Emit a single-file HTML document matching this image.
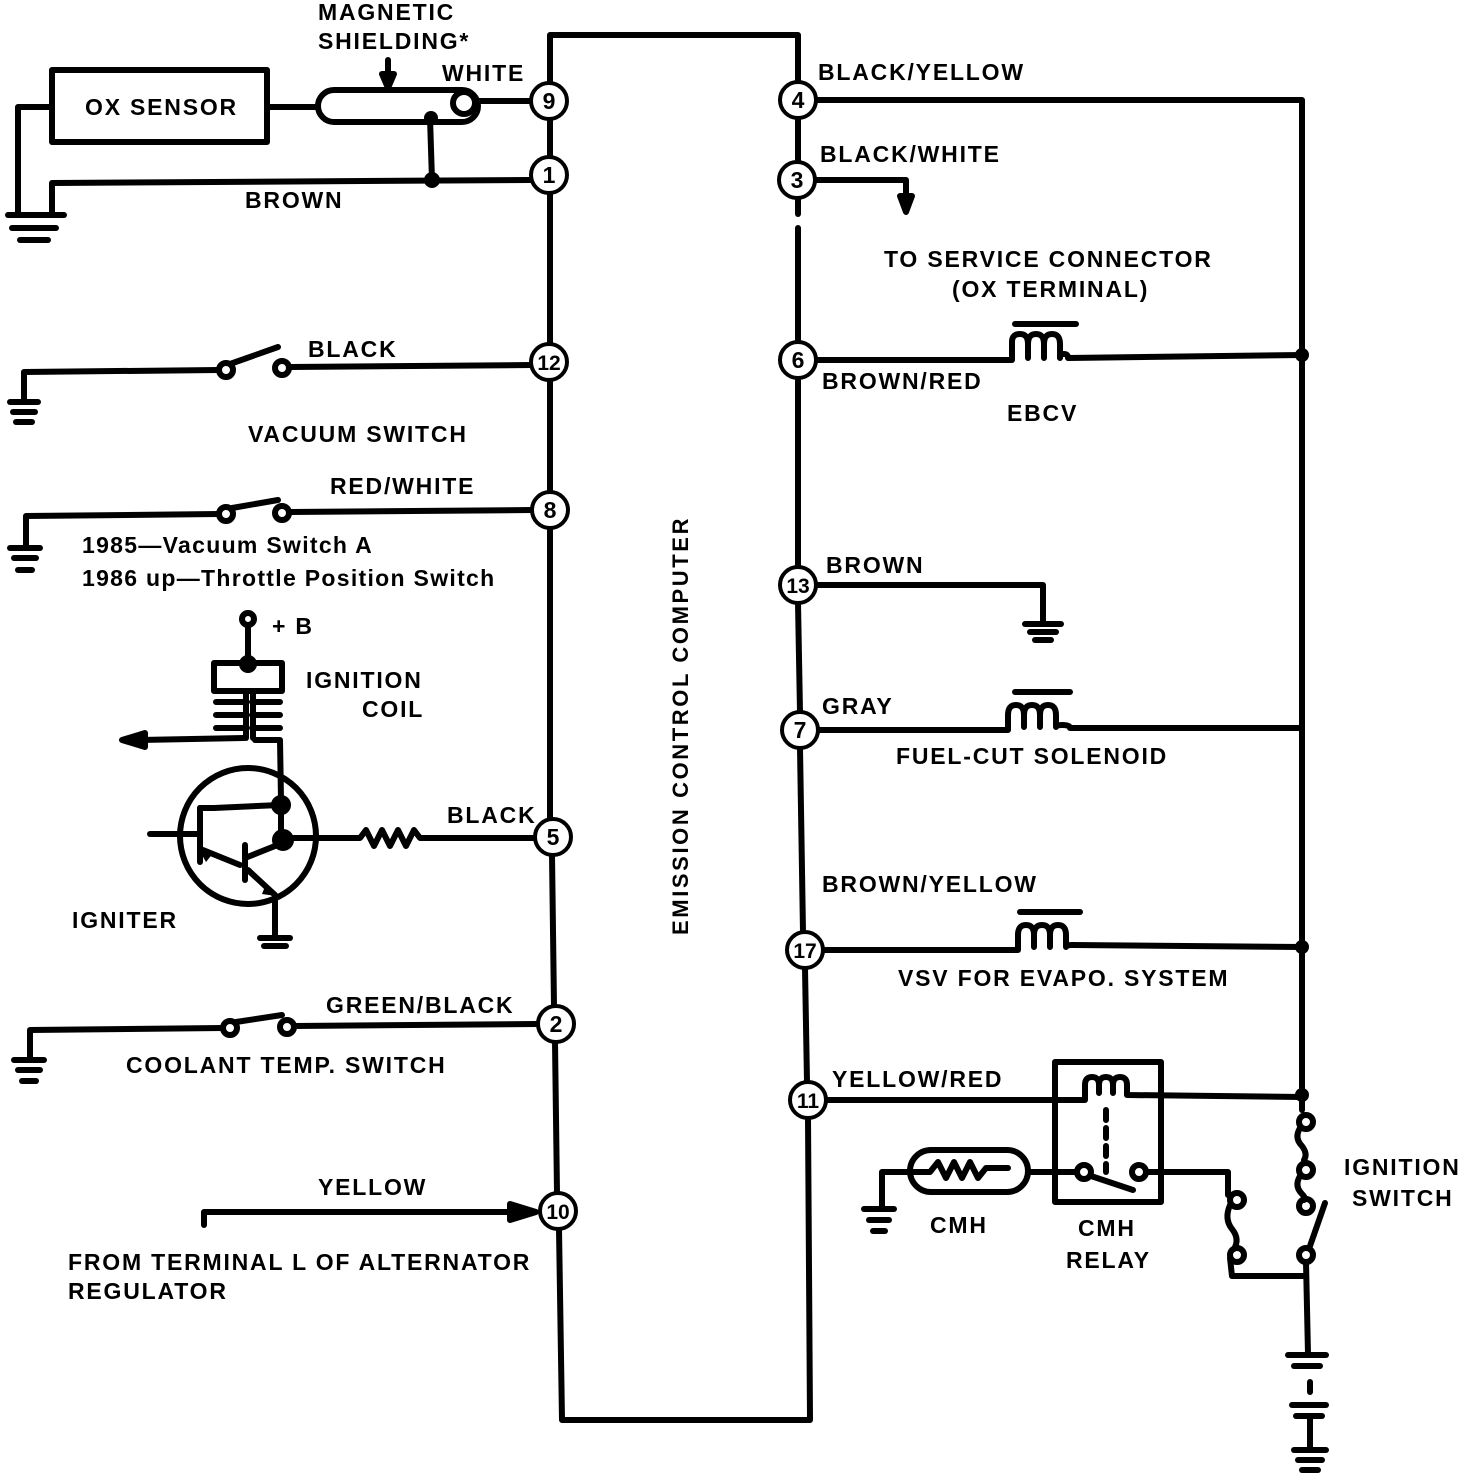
<!DOCTYPE html>
<html><head><style>
html,body{margin:0;padding:0;background:#fff;}
svg{display:block;}
text{font-family:"Liberation Sans",Arial,sans-serif;font-weight:bold;font-size:23px;fill:#000;letter-spacing:1.8px;}
</style></head><body>
<svg width="1472" height="1484" viewBox="0 0 1472 1484" xmlns="http://www.w3.org/2000/svg">
<g fill="none" stroke="#000" stroke-width="6" stroke-linejoin="round" stroke-linecap="round">
<polyline points="550,83 550,35 798,35 798,83"/>
<line x1="550" y1="118" x2="550" y2="157"/>
<line x1="550" y1="193" x2="550" y2="344"/>
<line x1="550" y1="380" x2="550" y2="492"/>
<line x1="550" y1="528" x2="550" y2="819"/>
<line x1="552" y1="855" x2="554" y2="1006"/>
<line x1="555" y1="1042" x2="557" y2="1193"/>
<polyline points="559,1229 562,1420 810,1420 808,1118"/>
<line x1="798" y1="118" x2="798" y2="162"/>
<line x1="798" y1="198" x2="798" y2="214"/>
<line x1="798" y1="228" x2="798" y2="342"/>
<line x1="798" y1="378" x2="798" y2="567"/>
<line x1="798" y1="603" x2="800" y2="712"/>
<line x1="800" y1="748" x2="803" y2="932"/>
<line x1="805" y1="968" x2="807" y2="1082"/>
<polyline points="818,100 1302,100 1302,1093"/>
<polyline points="816,180 906,180 906,200"/>
<polygon points="900,196 912,196 906,212" fill="#000"/>
<polyline points="816,360 1012,360 1012,342"/>
<path d="M1012,342 q0,-8 8,-8 q8,0 8,10 v14 M1028,344 q0,-10 8,-10 q8,0 8,10 v14 M1044,344 q0,-10 8,-10 q8,0 8,10 v14 q0,-4 4,-4 q4,0 4,4 L1302,355"/>
<line x1="1015" y1="324" x2="1076" y2="324"/>
<polyline points="816,585 1043,585 1043,622"/>
<line x1="1025" y1="624" x2="1061" y2="624"/>
<line x1="1030" y1="632" x2="1056" y2="632"/>
<line x1="1035" y1="640" x2="1051" y2="640"/>
<polyline points="818,730 1008,730 1008,715"/>
<path d="M1008,715 q0,-10 8,-10 q8,0 8,10 v12 M1024,715 q0,-10 8,-10 q8,0 8,10 v12 M1040,715 q0,-10 8,-10 q8,0 8,10 v12 q0,-2 6,-2 q8,0 8,3 L1302,728"/>
<line x1="1015" y1="692" x2="1070" y2="692"/>
<polyline points="823,950 1018,950 1018,935"/>
<path d="M1018,935 q0,-10 8,-10 q8,0 8,10 v12 M1034,935 q0,-10 8,-10 q8,0 8,10 v12 M1050,935 q0,-10 8,-10 q8,0 8,10 v12 q0,-2 6,-2 L1302,947"/>
<line x1="1020" y1="912" x2="1080" y2="912"/>
<polyline points="826,1100 1085,1100 1085,1085"/>
<path d="M1085,1085 q0,-8 7,-8 q7,0 7,8 v8 M1099,1085 q0,-8 7,-8 q7,0 7,8 v8 M1113,1085 q0,-8 7,-8 q7,0 7,8 v10 L1302,1097"/>
<rect x="1055" y="1062" width="106" height="140"/>
<line x1="1106" y1="1110" x2="1106" y2="1172" stroke-dasharray="10,8"/>
<circle cx="1084" cy="1172" r="7"/>
<circle cx="1139" cy="1172" r="7"/>
<line x1="1091" y1="1176" x2="1133" y2="1190"/>
<polyline points="1077,1172 1030,1172"/>
<rect x="910" y="1150" width="118" height="42" rx="21"/>
<path d="M910,1172 h20 l8,-10 l8,16 l8,-16 l8,16 l8,-16 l8,16 l8,-10 h22"/>
<polyline points="910,1172 882,1172 882,1208"/>
<line x1="864" y1="1209" x2="894" y2="1209"/>
<line x1="869" y1="1220" x2="889" y2="1220"/>
<line x1="873" y1="1231" x2="885" y2="1231"/>
<polyline points="1146,1172 1228,1172 1228,1195"/>
<circle cx="1237" cy="1200" r="7"/>
<path d="M1230,1205 q-6,14 2,24 q8,10 2,20"/>
<circle cx="1237" cy="1255" r="7"/>
<polyline points="1230,1258 1232,1276 1305,1276"/>
<line x1="1302" y1="1097" x2="1302" y2="1110"/>
<circle cx="1306" cy="1122" r="7"/>
<path d="M1300,1128 q-6,10 2,18 q6,8 2,14"/>
<circle cx="1306" cy="1170" r="7"/>
<path d="M1300,1176 q-6,10 2,18 q4,4 2,6"/>
<circle cx="1306" cy="1206" r="7"/>
<line x1="1325" y1="1203" x2="1310" y2="1246"/>
<circle cx="1306" cy="1255" r="7"/>
<line x1="1306" y1="1262" x2="1308" y2="1354"/>
<line x1="1288" y1="1355" x2="1326" y2="1355"/>
<line x1="1294" y1="1366" x2="1320" y2="1366"/>
<line x1="1310" y1="1382" x2="1310" y2="1392"/>
<line x1="1292" y1="1405" x2="1326" y2="1405"/>
<line x1="1296" y1="1416" x2="1322" y2="1416"/>
<line x1="1310" y1="1416" x2="1310" y2="1448"/>
<line x1="1294" y1="1450" x2="1326" y2="1450"/>
<line x1="1298" y1="1460" x2="1322" y2="1460"/>
<line x1="1302" y1="1470" x2="1318" y2="1470"/>

<rect x="52" y="70" width="215" height="72"/>
<polyline points="52,107 18,107 18,212"/>
<polyline points="530,180 52,183 52,212"/>
<line x1="8" y1="215" x2="64" y2="215"/>
<line x1="12" y1="228" x2="56" y2="228"/>
<line x1="20" y1="240" x2="48" y2="240"/>
<line x1="267" y1="107" x2="318" y2="107"/>
<rect x="318" y="90" width="160" height="32" rx="16"/>
<circle cx="464" cy="103" r="11"/>
<line x1="475" y1="101" x2="532" y2="101"/>
<line x1="430" y1="118" x2="432" y2="180"/>
<line x1="388" y1="60" x2="388" y2="80"/>
<polygon points="382,74 394,74 388,88" fill="#000"/>

<polyline points="532,365 290,367"/>
<circle cx="282" cy="368" r="7"/>
<circle cx="226" cy="370" r="7"/>
<line x1="230" y1="364" x2="278" y2="347"/>
<polyline points="219,370 24,372 24,400"/>
<line x1="10" y1="402" x2="38" y2="402"/>
<line x1="13" y1="412" x2="35" y2="412"/>
<line x1="16" y1="422" x2="32" y2="422"/>
<polyline points="532,510 290,512"/>
<circle cx="282" cy="513" r="7"/>
<circle cx="226" cy="514" r="7"/>
<line x1="232" y1="508" x2="278" y2="500"/>
<polyline points="219,514 26,516 26,545"/>
<line x1="10" y1="548" x2="40" y2="548"/>
<line x1="14" y1="558" x2="36" y2="558"/>
<line x1="18" y1="570" x2="32" y2="570"/>
<polyline points="536,1024 294,1026"/>
<circle cx="287" cy="1027" r="7"/>
<circle cx="230" cy="1028" r="7"/>
<line x1="236" y1="1022" x2="282" y2="1015"/>
<polyline points="223,1028 30,1030 30,1058"/>
<line x1="14" y1="1060" x2="44" y2="1060"/>
<line x1="18" y1="1070" x2="40" y2="1070"/>
<line x1="22" y1="1081" x2="36" y2="1081"/>
<polyline points="204,1225 204,1212 520,1212"/>
<polygon points="510,1204 536,1212 510,1220" fill="#000"/>

<circle cx="248" cy="619" r="6"/>
<line x1="248" y1="625" x2="248" y2="660"/>
<path d="M246,663 h-32 v28 h68 v-28 h-32"/>
<circle cx="248" cy="664" r="6" fill="#000"/>
<path d="M216,702 h30 M216,715 h30 M216,728 h30 M280,702 h-28 M280,715 h-28 M280,728 h-28"/>
<line x1="246" y1="692" x2="246" y2="738"/>
<line x1="253" y1="692" x2="253" y2="738"/>
<polyline points="244,738 140,740"/>
<polygon points="122,740 145,733 145,747" fill="#000"/>
<polyline points="255,740 280,740 281,800"/>
<circle cx="248" cy="836" r="68"/>
<line x1="150" y1="834" x2="200" y2="834"/>
<line x1="200" y1="808" x2="200" y2="862"/>
<polyline points="200,808 214,808 280,805"/>
<circle cx="281" cy="805" r="7" fill="#000"/>
<line x1="281" y1="800" x2="281" y2="838"/>
<circle cx="283" cy="840" r="8" fill="#000"/>
<polyline points="203,850 240,865"/>
<line x1="245" y1="845" x2="245" y2="880"/>
<polyline points="245,858 285,842"/>
<polyline points="248,870 275,895 275,935"/>
<line x1="260" y1="938" x2="290" y2="938"/>
<line x1="264" y1="946" x2="286" y2="946"/>
<polyline points="290,838 360,838 366,830 374,846 382,830 390,846 398,830 406,846 414,830 420,838 535,838"/>
</g>
<g fill="#000">
<polygon points="198,848 214,852 206,862"/>
<polygon points="266,884 276,896 262,894"/>
<circle cx="431" cy="118" r="7"/>
<circle cx="432" cy="180" r="8"/>
<circle cx="1302" cy="355" r="7"/>
<circle cx="1302" cy="947" r="7"/>
<circle cx="1302" cy="1095" r="7"/>
</g>
<g fill="#fff" stroke="#000" stroke-width="4">
<circle cx="549" cy="101" r="18"/><circle cx="549" cy="175" r="18"/>
<circle cx="549" cy="362" r="18"/><circle cx="550" cy="510" r="18"/>
<circle cx="553" cy="837" r="18"/><circle cx="556" cy="1024" r="18"/>
<circle cx="558" cy="1211" r="18"/>
<circle cx="798" cy="100" r="18"/><circle cx="797" cy="180" r="18"/>
<circle cx="798" cy="360" r="18"/><circle cx="798" cy="585" r="18"/>
<circle cx="800" cy="730" r="18"/><circle cx="805" cy="950" r="18"/>
<circle cx="808" cy="1100" r="18"/>
</g>
<g text-anchor="middle">
<text x="549" y="109" style="font-size:23px;letter-spacing:0">9</text><text x="549" y="183" style="font-size:23px;letter-spacing:0">1</text>
<text x="549" y="370" style="font-size:21px;letter-spacing:0">12</text><text x="550" y="518" style="font-size:23px;letter-spacing:0">8</text>
<text x="553" y="845" style="font-size:23px;letter-spacing:0">5</text><text x="556" y="1032" style="font-size:23px;letter-spacing:0">2</text>
<text x="558" y="1219" style="font-size:21px;letter-spacing:0">10</text>
<text x="798" y="108" style="font-size:23px;letter-spacing:0">4</text><text x="797" y="188" style="font-size:23px;letter-spacing:0">3</text>
<text x="798" y="368" style="font-size:23px;letter-spacing:0">6</text><text x="798" y="593" style="font-size:21px;letter-spacing:0">13</text>
<text x="800" y="738" style="font-size:23px;letter-spacing:0">7</text><text x="805" y="958" style="font-size:21px;letter-spacing:0">17</text>
<text x="808" y="1108" style="font-size:21px;letter-spacing:0">11</text>
</g>
<text x="85" y="115">OX SENSOR</text>
<text x="318" y="20">MAGNETIC</text>
<text x="318" y="49">SHIELDING*</text>
<text x="442" y="81">WHITE</text>
<text x="245" y="208">BROWN</text>
<text x="308" y="357">BLACK</text>
<text x="248" y="442">VACUUM SWITCH</text>
<text x="330" y="494">RED/WHITE</text>
<text x="82" y="553" style="letter-spacing:1.3px">1985—Vacuum Switch A</text>
<text x="82" y="586" style="letter-spacing:1.3px">1986 up—Throttle Position Switch</text>
<text x="272" y="634">+ B</text>
<text x="306" y="688">IGNITION</text>
<text x="362" y="717">COIL</text>
<text x="447" y="823">BLACK</text>
<text x="72" y="928">IGNITER</text>
<text x="326" y="1013">GREEN/BLACK</text>
<text x="126" y="1073">COOLANT TEMP. SWITCH</text>
<text x="318" y="1195">YELLOW</text>
<text x="68" y="1270">FROM TERMINAL L OF ALTERNATOR</text>
<text x="68" y="1299">REGULATOR</text>
<text transform="translate(688,935) rotate(-90)" style="font-size:22px;letter-spacing:2.6px">EMISSION CONTROL COMPUTER</text>
<text x="818" y="80">BLACK/YELLOW</text>
<text x="820" y="162">BLACK/WHITE</text>
<text x="884" y="267">TO SERVICE CONNECTOR</text>
<text x="952" y="297">(OX TERMINAL)</text>
<text x="822" y="389">BROWN/RED</text>
<text x="1007" y="421">EBCV</text>
<text x="826" y="573">BROWN</text>
<text x="822" y="714">GRAY</text>
<text x="896" y="764">FUEL-CUT SOLENOID</text>
<text x="822" y="892">BROWN/YELLOW</text>
<text x="898" y="986">VSV FOR EVAPO. SYSTEM</text>
<text x="832" y="1087">YELLOW/RED</text>
<text x="930" y="1233">CMH</text>
<text x="1078" y="1236">CMH</text>
<text x="1066" y="1268">RELAY</text>
<text x="1344" y="1175">IGNITION</text>
<text x="1352" y="1206">SWITCH</text>
</svg>
</body></html>
